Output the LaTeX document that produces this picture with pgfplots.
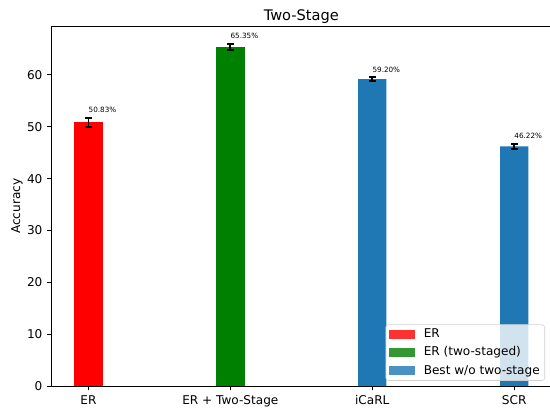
\documentclass[border=0pt]{standalone}
\usepackage{pgfplots}
\pgfplotsset{compat=1.18}
\usepackage{fontspec}
\setmainfont{DejaVu Sans}
\definecolor{mplblue}{HTML}{1F77B4}
\definecolor{mplgreen}{HTML}{008000}
\begin{document}
\begin{tikzpicture}
\begin{axis}[
  scale only axis,
  width=359.6pt, height=258.7pt,
  xmin=-0.26, xmax=3.26,
  ymin=0, ymax=69.3,
  xtick={0,1,2,3},
  xticklabels={ER, ER + Two-Stage, iCaRL, SCR},
  ytick={0,10,...,60},
  tick align=outside,
  xtick pos=bottom, ytick pos=left,
  major tick length=3.05pt,
  tick style={black, line width=0.7pt},
  axis line style={line width=0.7pt},
  tick label style={font=\fontsize{8.7}{10}\selectfont},
  /pgf/number format/assume math mode=true,
  ylabel={Accuracy},
  ylabel style={font=\fontsize{8.7}{10}\selectfont, at={(axis description cs:0,0.5)}, anchor=center, yshift=24.8pt},
  title={Two-Stage},
  title style={font=\fontsize{10.5}{12}\selectfont, at={(axis description cs:0.5,1)}, anchor=base, yshift=-1.9pt},
  ybar, bar width=0.2, bar shift=0pt,
  legend style={at={(1,0)}, anchor=south east, xshift=-4.4pt, yshift=3.8pt,
    draw=black!18, rounded corners=2pt, fill=white, fill opacity=0.8, text opacity=1,
    font=\fontsize{8.7}{10}\selectfont,
    nodes={inner xsep=1pt, inner ysep=0pt, text height=6.6pt, text depth=2pt},
    inner xsep=2.6pt, inner ysep=2.6pt, row sep=4.6pt,
    /tikz/every odd column/.append style={column sep=5.2pt}},
  legend cell align=left,
  error bars/y dir=both, error bars/y explicit,
  error bars/error mark=|,
  error bars/error bar style={black, line width=1.3pt},
  error bars/error mark options={black, line width=1.3pt, mark size=2.5pt},
]
\addplot[fill=red, draw=none,
  legend image code/.code={\fill[red, sharp corners] (0pt,-3.2pt) rectangle (18.5pt,3.2pt);}]
  coordinates {(0,50.83) +- (0,0.85)};
\addlegendentry{ER}
\addplot[fill=mplgreen, draw=none,
  legend image code/.code={\fill[mplgreen, sharp corners] (0pt,-3.2pt) rectangle (18.5pt,3.2pt);}]
  coordinates {(1,65.35) +- (0,0.6)};
\addlegendentry{ER (two-staged)}
\addplot[fill=mplblue, draw=none,
  legend image code/.code={\fill[mplblue, sharp corners] (0pt,-3.2pt) rectangle (18.5pt,3.2pt);}]
  coordinates {(2,59.20) +- (0,0.35) (3,46.22) +- (0,0.45)};
\addlegendentry{Best w/o two-stage}
\begin{scope}[every node/.style={anchor=base west, inner sep=0pt, font=\fontsize{5.2}{6}\selectfont}]
\node at (axis cs:0,52.68) {50.83\%};
\node at (axis cs:1,66.95) {65.35\%};
\node at (axis cs:2,60.55) {59.20\%};
\node at (axis cs:3,47.67) {46.22\%};
\end{scope}
\coordinate (bl) at (rel axis cs:0,0);
\coordinate (tr) at (rel axis cs:1,1);
\end{axis}
\pgfresetboundingbox
\useasboundingbox ([xshift=-37.1pt,yshift=-15.8pt]bl) rectangle ([xshift=-0.8pt,yshift=19.2pt]tr);
\end{tikzpicture}
\end{document}
